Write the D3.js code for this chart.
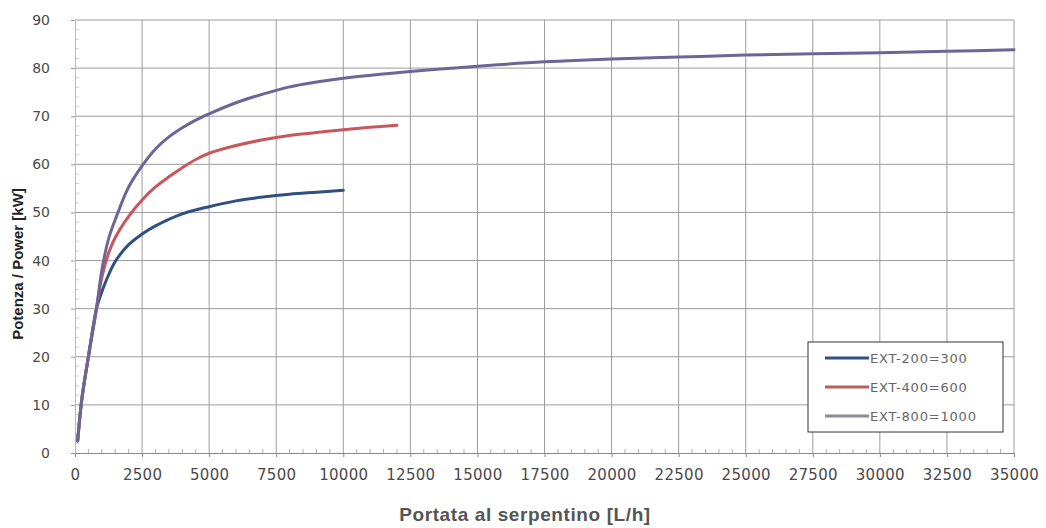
<!DOCTYPE html>
<html lang="it">
<head>
<meta charset="UTF-8">
<title>Potenza / Portata</title>
<script src="https://d3js.org/d3.v7.min.js"></script>
<style>
  body { margin: 0; background: #fff; }
  .tick text { font-family: "DejaVu Sans", sans-serif; fill: #4a4a4a; }
</style>
</head>
<body>
<script>
// data
const seriesNames = ["EXT-200=300", "EXT-400=600", "EXT-800=1000"];

const blueX = [100, 250, 500, 800, 1000, 1250, 1500, 2000, 2500, 3000, 4000, 5000, 6000, 7000, 8000, 9000, 10000];
const blueY = [2.5, 11, 20, 30, 33.5, 37, 39.8, 43.3, 45.5, 47.2, 49.7, 51.2, 52.4, 53.2, 53.8, 54.2, 54.6];

const redX = [100, 250, 500, 800, 1000, 1250, 1500, 2000, 2500, 3000, 3500, 4000, 4500, 5000, 6000, 7000, 8000, 9000, 10000, 11000, 12000];
const redY = [2.5, 11, 20, 30, 36.5, 41.5, 44.8, 49.2, 52.6, 55.3, 57.4, 59.3, 61, 62.3, 63.9, 65.1, 66, 66.6, 67.2, 67.7, 68.1];

const purpleX = [100, 250, 500, 800, 1000, 1250, 1500, 2000, 2500, 3000, 3500, 4000, 4500, 5000, 6000, 7000, 8000, 9000, 10000,
                 12500, 15000, 17500, 20000, 22500, 25000, 27500, 30000, 32500, 35000];
const purpleY = [2.5, 11, 20, 30, 38, 44.5, 48.5, 55.3, 59.7, 63.2, 65.7, 67.6, 69.2, 70.5, 72.8, 74.6, 76.1, 77.1, 77.9,
                 79.3, 80.4, 81.3, 81.9, 82.3, 82.7, 83, 83.2, 83.5, 83.8];

const xTicks = d3.range(0, 35001, 2500);
const yTicks = d3.range(0, 91, 10);

const width = 1046, height = 528;
const plotL = 75, plotR = 1014, plotT = 20, plotB = 453;

const svg = d3.select("body").append("svg")
    .attr("width", width)
    .attr("height", height);

const x = d3.scaleLinear().domain([0, 35000]).range([plotL, plotR]);
const y = d3.scaleLinear().domain([0, 90]).range([plotB, plotT]);

// grid
svg.append("g")
    .selectAll("line")
    .data(xTicks.slice(1))
    .join("line")
    .attr("x1", d => x(d)).attr("x2", d => x(d))
    .attr("y1", plotT).attr("y2", plotB)
    .attr("stroke", "#9c9c9c");

svg.append("g")
    .selectAll("line")
    .data(yTicks.slice(1))
    .join("line")
    .attr("x1", plotL).attr("x2", plotR)
    .attr("y1", d => y(d)).attr("y2", d => y(d))
    .attr("stroke", "#9c9c9c");

// minor ticks
svg.append("g")
    .selectAll("line")
    .data(d3.range(500, 35000, 500).filter(d => d % 2500 != 0))
    .join("line")
    .attr("x1", d => x(d)).attr("x2", d => x(d))
    .attr("y1", plotB - 4).attr("y2", plotB)
    .attr("stroke", "#b0b0b0");

svg.append("g")
    .selectAll("line")
    .data(d3.range(2, 90, 2).filter(d => d % 10 != 0))
    .join("line")
    .attr("x1", plotL).attr("x2", plotL + 4)
    .attr("y1", d => y(d)).attr("y2", d => y(d))
    .attr("stroke", "#d0d0d0");

// axes
const xAxis = svg.append("g")
    .attr("transform", "translate(0," + plotB + ")")
    .call(d3.axisBottom(x).tickValues(xTicks).tickFormat(d3.format("d")).tickSize(4).tickPadding(12));
xAxis.select(".domain").attr("stroke", "#888");
xAxis.selectAll(".tick line").attr("stroke", "#888");
xAxis.selectAll(".tick text").style("font-size", "15px").style("letter-spacing", "0.3px");

const yAxis = svg.append("g")
    .attr("transform", "translate(" + plotL + ",0)")
    .call(d3.axisLeft(y).tickValues(yTicks).tickSize(4).tickPadding(21));
yAxis.select(".domain").attr("stroke", "#bbb");
yAxis.selectAll(".tick line").attr("stroke", "#999");
yAxis.selectAll(".tick text").style("font-size", "14px");

// curves
const line = d3.line()
    .x(d => x(d[0]))
    .y(d => y(d[1]))
    .curve(d3.curveCatmullRom.alpha(0.5));

const series = [
    { name: seriesNames[0], pts: d3.zip(blueX, blueY), color: "#2f5080", legend: "#2f5080" },
    { name: seriesNames[1], pts: d3.zip(redX, redY), color: "#c8565a", legend: "#b9605c" },
    { name: seriesNames[2], pts: d3.zip(purpleX, purpleY), color: "#6c6698", legend: "#8c8c98" }
];

svg.append("g")
    .selectAll("path")
    .data(series)
    .join("path")
    .attr("d", d => line(d.pts))
    .attr("fill", "none")
    .attr("stroke", d => d.color)
    .attr("stroke-width", 3)
    .attr("stroke-linecap", "round");

// legend
const lg = svg.append("g");
lg.append("rect")
    .attr("x", 808).attr("y", 342)
    .attr("width", 195).attr("height", 90)
    .attr("fill", "#fff")
    .attr("stroke", "#333");

const items = lg.selectAll("g.item")
    .data(series)
    .join("g")
    .attr("class", "item")
    .attr("transform", (d, i) => "translate(825," + (358 + i * 29) + ")");

items.append("line")
    .attr("x1", 0).attr("x2", 44)
    .attr("stroke", d => d.legend)
    .attr("stroke-width", 3);

items.append("text")
    .attr("x", 45).attr("dy", "0.35em")
    .style("font-family", "DejaVu Sans, sans-serif")
    .style("font-size", "13px")
    .style("letter-spacing", "0.8px")
    .attr("fill", "#666")
    .text(d => d.name);

// axis titles
svg.append("text")
    .attr("x", 525).attr("y", 521)
    .attr("text-anchor", "middle")
    .style("font-family", "Liberation Sans, Arial, sans-serif")
    .style("font-size", "19px")
    .style("font-weight", "bold")
    .style("letter-spacing", "0.6px")
    .attr("fill", "#555")
    .text("Portata al serpentino [L/h]");

svg.append("text")
    .attr("transform", "translate(23,264) rotate(-90)")
    .attr("text-anchor", "middle")
    .style("font-family", "Liberation Sans, Arial, sans-serif")
    .style("font-size", "15px")
    .style("font-weight", "bold")
    .attr("fill", "#222")
    .text("Potenza / Power [kW]");
</script>
</body>
</html>
